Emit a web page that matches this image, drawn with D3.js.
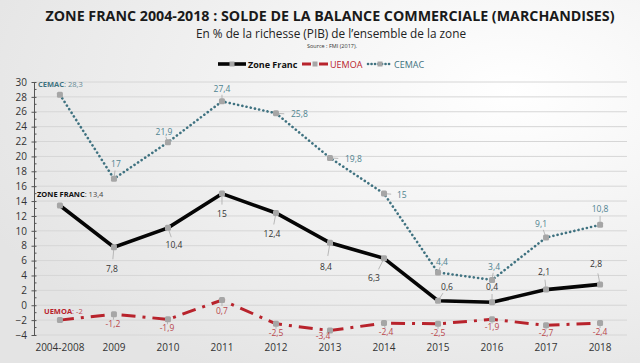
<!DOCTYPE html>
<html>
<head>
<meta charset="utf-8">
<script src="https://cdn.jsdelivr.net/npm/d3@7"></script>
<style>
  body { margin: 0; }
  svg { display: block; }
</style>
</head>
<body>
<svg id="chart" width="640" height="363"></svg>
<script>
const years = ["2004-2008", "2009", "2010", "2011", "2012", "2013", "2014", "2015", "2016", "2017", "2018"];
const zoneFranc = [13.4, 7.8, 10.4, 15, 12.4, 8.4, 6.3, 0.6, 0.4, 2.1, 2.8];
const uemoa = [-2, -1.2, -1.9, 0.7, -2.5, -3.4, -2.4, -2.5, -1.9, -2.7, -2.4];
const cemac = [28.3, 17, 21.9, 27.4, 25.8, 19.8, 15, 4.4, 3.4, 9.1, 10.8];
const yTicks = d3.range(-4, 31, 2);

// label offsets (dx, dy) relative to the point, per series
const zfOff = [[0,0],[-2,22],[6,17],[0,20],[-4,21],[-4,24],[-10,20],[9,-14],[0,-15],[-2,-18],[-4,-20]];
const ueOff = [[0,0],[-1,10],[-1,9],[0,11],[0,9],[-7,5],[2,9],[0,9],[0,8],[0,8],[0,9]];
const ceOff = [[0,0],[2,-15],[-4,-10],[0,-12],[15,1],[15,1],[13,1],[4,-10],[2,-13],[-5,-14],[0,-16]];

const svg = d3.select("#chart");
const width = 640, height = 363;
const margin = {left: 34, right: 14, top: 82, bottom: 28};

// background
const defs = svg.append("defs");
const grad = defs.append("radialGradient").attr("id", "bg")
    .attr("cx", "80%").attr("cy", "25%").attr("r", "90%");
grad.append("stop").attr("offset", "0%").attr("stop-color", "#ffffff");
grad.append("stop").attr("offset", "100%").attr("stop-color", "#e4e4e4");
svg.append("rect").attr("width", width).attr("height", height).attr("fill", "url(#bg)");

const x = d3.scalePoint()
    .domain(years)
    .range([margin.left, width - margin.right])
    .padding(0.48);

const y = d3.scaleLinear()
    .domain([-4, 30])
    .range([height - margin.bottom, margin.top]);

// titles
svg.append("text")
    .attr("x", 330).attr("y", 20.5)
    .attr("text-anchor", "middle")
    .style("font-family", "'Open Sans', sans-serif")
    .style("font-weight", "bold")
    .style("font-size", "14px")
    .attr("textLength", 569)
    .attr("lengthAdjust", "spacingAndGlyphs")
    .style("fill", "#1a1a1a")
    .text("ZONE FRANC 2004-2018 : SOLDE DE LA BALANCE COMMERCIALE (MARCHANDISES)");

svg.append("text")
    .attr("x", 331).attr("y", 38)
    .attr("text-anchor", "middle")
    .style("font-family", "'Open Sans', sans-serif")
    .style("font-size", "12px")
    .attr("textLength", 270)
    .attr("lengthAdjust", "spacingAndGlyphs")
    .style("fill", "#222")
    .text("En % de la richesse (PIB) de l’ensemble de la zone");

svg.append("text")
    .attr("x", 332).attr("y", 47.5)
    .attr("text-anchor", "middle")
    .style("font-family", "'Open Sans', sans-serif")
    .style("font-size", "5.5px")
    .style("fill", "#333")
    .text("Source : FMI (2017).");

// gridlines
svg.append("g")
    .selectAll("line")
    .data(yTicks)
    .join("line")
    .attr("x1", margin.left).attr("x2", width - margin.right + 1)
    .attr("y1", d => y(d)).attr("y2", d => y(d))
    .attr("stroke", "#d6d6d6")
    .attr("stroke-width", 1);

// y axis
const yAxis = svg.append("g")
    .attr("transform", `translate(${margin.left},0)`)
    .call(d3.axisLeft(y).tickValues(yTicks).tickSize(5).tickSizeOuter(0).tickFormat(d3.format("d")));
yAxis.select(".domain").attr("stroke", "#555");
yAxis.selectAll(".tick line").attr("stroke", "#555").attr("transform", "translate(2.5,0)");
yAxis.selectAll("text")
    .style("font-family", "'Open Sans', sans-serif")
    .style("font-size", "10px")
    .style("fill", "#333")
    .attr("x", -7);
// minor ticks
yAxis.append("g").selectAll("line")
    .data(d3.range(-3, 30, 2))
    .join("line")
    .attr("x1", 0).attr("x2", 2.5)
    .attr("y1", d => y(d)).attr("y2", d => y(d))
    .attr("stroke", "#555");

// x labels
svg.append("g")
    .selectAll("text")
    .data(years)
    .join("text")
    .attr("x", d => x(d)).attr("y", height - 12)
    .attr("text-anchor", "middle")
    .style("font-family", "'Open Sans', sans-serif")
    .style("font-size", "10px")
    .style("fill", "#333")
    .text(d => d);

const line = d3.line().x((d, i) => x(years[i])).y(d => y(d));

const series = [
    {name: "CEMAC", values: cemac, color: "#3f7280", label: "#4e8390", width: 2.6, dash: "0.1 4.2", cap: "round", off: ceOff},
    {name: "Zone Franc", values: zoneFranc, color: "#050505", label: "#333", width: 3.6, dash: null, cap: "butt", off: zfOff},
    {name: "UEMOA", values: uemoa, color: "#b8232c", label: "#b9474c", width: 3, dash: "14 7 3 7", cap: "butt", off: ueOff}
];

const fmt = v => String(v).replace(".", ",");

series.forEach(s => {
    svg.append("path")
        .datum(s.values)
        .attr("fill", "none")
        .attr("stroke", s.color)
        .attr("stroke-width", s.width)
        .attr("stroke-linecap", s.cap)
        .attr("stroke-dasharray", s.dash)
        .attr("d", line);
});

series.forEach(s => {
    const g = svg.append("g");
    // leader lines
    g.selectAll("line")
        .data(s.values.slice(1))
        .join("line")
        .attr("x1", (d, i) => x(years[i + 1]))
        .attr("y1", d => y(d))
        .attr("x2", (d, i) => x(years[i + 1]) + s.off[i + 1][0] * 0.55)
        .attr("y2", (d, i) => y(d) + s.off[i + 1][1] * 0.55)
        .attr("stroke", "#aaa")
        .attr("stroke-width", 0.8);
    // markers
    g.selectAll("rect")
        .data(s.values)
        .join("rect")
        .attr("x", (d, i) => x(years[i]) - 3)
        .attr("y", d => y(d) - 3)
        .attr("width", 6).attr("height", 6)
        .attr("rx", 1.5)
        .attr("fill", "#a6a6a6");
    // value labels
    g.selectAll("text")
        .data(s.values.slice(1))
        .join("text")
        .attr("x", (d, i) => x(years[i + 1]) + s.off[i + 1][0])
        .attr("y", (d, i) => y(d) + s.off[i + 1][1] + 3)
        .attr("text-anchor", (d, i) => s.off[i + 1][0] >= 12 ? "start" : "middle")
        .style("font-family", "'Open Sans', sans-serif")
        .style("font-size", "8.5px")
        .style("fill", s.label)
        .text(d => fmt(d));
});

// first-point series labels
const firstLabels = [
    {title: "CEMAC", v: cemac[0], color: "#3f7280", x: 38, y: y(cemac[0]) - 8},
    {title: "ZONE FRANC", v: zoneFranc[0], color: "#111", x: 37, y: y(zoneFranc[0]) - 9},
    {title: "UEMOA", v: uemoa[0], color: "#b8232c", x: 44, y: y(uemoa[0]) - 6}
];
firstLabels.forEach(f => {
    const t = svg.append("text")
        .attr("x", f.x).attr("y", f.y)
        .style("font-family", "'Open Sans', sans-serif")
        .style("font-size", "7.5px");
    t.append("tspan").style("font-weight", "bold").style("fill", f.color).text(f.title);
    t.append("tspan").style("fill", f.color).style("opacity", 0.8).text(": " + fmt(f.v));
});

// legend
const legendItems = [
    {name: "Zone Franc", s: series[1], x: 218, w: 28, textColor: "#111", weight: "bold"},
    {name: "UEMOA", s: series[2], x: 302, w: 26, textColor: "#b8232c", weight: "normal"},
    {name: "CEMAC", s: series[0], x: 368, w: 24, textColor: "#3f7280", weight: "normal"}
];
const ly = 64;
legendItems.forEach(it => {
    const g = svg.append("g");
    g.append("line")
        .attr("x1", it.x).attr("x2", it.x + it.w)
        .attr("y1", ly).attr("y2", ly)
        .attr("stroke", it.s.color)
        .attr("stroke-width", it.s.width)
        .attr("stroke-linecap", it.s.cap)
        .attr("stroke-dasharray", it.s.name === "UEMOA" ? "9 3 2 3" : (it.s.name === "CEMAC" ? "0.1 3.4" : null));
    g.append("rect")
        .attr("x", it.x + it.w / 2 - 2.5).attr("y", ly - 2.5)
        .attr("width", 5).attr("height", 5)
        .attr("fill", "#a6a6a6");
    g.append("text")
        .attr("x", it.x + it.w + 2).attr("y", ly + 3.5)
        .style("font-family", "'Open Sans', sans-serif")
        .style("font-size", "9px")
        .style("font-weight", it.weight)
        .style("fill", it.textColor)
        .text(it.name);
});
</script>
</body>
</html>
